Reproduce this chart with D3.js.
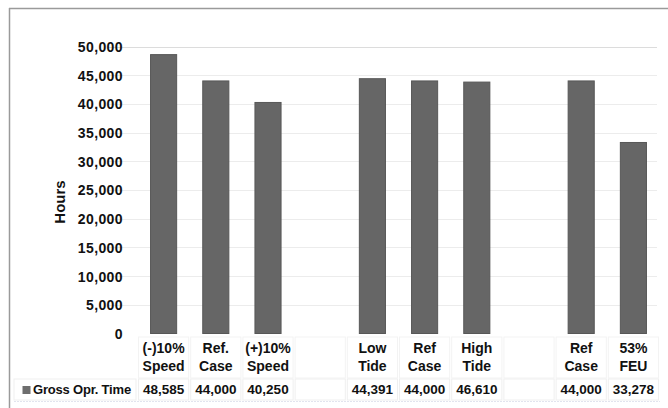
<!DOCTYPE html>
<html>
<head>
<meta charset="utf-8">
<script src="https://cdn.jsdelivr.net/npm/d3@7"></script>
<style>
  html, body { margin: 0; padding: 0; background: #fff; }
  svg { display: block; font-family: "Liberation Sans", Arial, sans-serif; font-weight: bold; }
</style>
</head>
<body>
<svg id="chart" width="668" height="408"></svg>
<script>
// ---- data ----
const categories = [
  ["(-)10%", "Speed"], ["Ref.", "Case"], ["(+)10%", "Speed"], ["", ""],
  ["Low", "Tide"], ["Ref", "Case"], ["High", "Tide"], ["", ""],
  ["Ref", "Case"], ["53%", "FEU"]
];
const barValues = [48585, 44000, 40250, null, 44391, 44000, 43800, null, 44000, 33278];
const tableLabels = ["48,585", "44,000", "40,250", "", "44,391", "44,000", "46,610", "", "44,000", "33,278"];
const yTicks = [0, 5000, 10000, 15000, 20000, 25000, 30000, 35000, 40000, 45000, 50000];
const seriesName = "Gross Opr. Time";
const yTitle = "Hours";

// ---- layout ----
const svg = d3.select("#chart");
const plot = { left: 137.5, right: 659.5, top: 46.5, bottom: 333.5 };

const x = d3.scaleBand().domain(d3.range(categories.length)).range([plot.left, plot.right]).paddingInner(0.5).paddingOuter(0.25);
const y = d3.scaleLinear().domain([0, 50000]).range([plot.bottom, plot.top]);

// outer frame
svg.append("line").attr("x1", 9).attr("x2", 668).attr("y1", 8.5).attr("y2", 8.5).attr("stroke", "#9a9a9a").attr("stroke-width", 1.5);
svg.append("line").attr("x1", 9.5).attr("x2", 9.5).attr("y1", 8).attr("y2", 408).attr("stroke", "#9a9a9a").attr("stroke-width", 1.5);

// gridlines
svg.append("g").selectAll("line").data(yTicks.filter(d => d > 0)).join("line")
  .attr("x1", 108).attr("x2", 657)
  .attr("y1", d => Math.round(y(d)) + 0.5).attr("y2", d => Math.round(y(d)) + 0.5)
  .attr("stroke", d => d === 50000 ? "#dcdcdc" : "#ececec").attr("stroke-width", 1);

// y axis labels via d3 axis
const yAxis = d3.axisLeft(y).tickValues(yTicks).tickFormat(d3.format(",")).tickSize(0).tickPadding(0);
const gy = svg.append("g").attr("transform", "translate(123,0)").call(yAxis);
gy.select(".domain").remove();
gy.selectAll("text").attr("font-size", 14).attr("font-weight", "bold").attr("fill", "#111")
  .attr("font-family", "Liberation Sans, Arial, sans-serif").attr("letter-spacing", 0.4).attr("dy", "0.35em");

// y title
svg.append("text").attr("transform", "translate(65,202) rotate(-90)")
  .attr("text-anchor", "middle").attr("font-size", 15).attr("fill", "#111").text(yTitle);

// bars
const barData = barValues.map((v, i) => ({ v, i })).filter(d => d.v != null);
svg.append("g").selectAll("rect").data(barData).join("rect")
  .attr("x", d => x(d.i)).attr("width", x.bandwidth())
  .attr("y", d => y(d.v)).attr("height", d => y(0) - y(d.v))
  .attr("fill", "#666666").attr("stroke", "#575757").attr("stroke-width", 1);

// table
const step = x.step();
const tbl = svg.append("g");
categories.forEach((c, i) => {
  const cx = x(i) + x.bandwidth() / 2;
  tbl.append("rect").attr("x", cx - step / 2 + 1).attr("y", 337).attr("width", step - 2).attr("height", 41)
    .attr("fill", "#fff").attr("stroke", "#f3f3f3");
  tbl.append("rect").attr("x", cx - step / 2 + 1).attr("y", 379).attr("width", step - 2).attr("height", 21)
    .attr("fill", "#fff").attr("stroke", "#efefef");
});
tbl.append("rect").attr("x", 14).attr("y", 379).attr("width", 122).attr("height", 21)
  .attr("fill", "#fff").attr("stroke", "#efefef");
tbl.append("line").attr("x1", 14).attr("x2", 660).attr("y1", 401.5).attr("y2", 401.5)
  .attr("stroke", "#e2e4ee").attr("stroke-dasharray", "2,1");

// category labels
const labG = svg.append("g").selectAll("text").data(categories.map((c, i) => ({ c, i }))).join("text")
  .attr("x", d => x(d.i) + x.bandwidth() / 2).attr("text-anchor", "middle")
  .attr("font-size", 14).attr("fill", "#111");
labG.append("tspan").attr("x", d => x(d.i) + x.bandwidth() / 2).attr("y", 353).text(d => d.c[0]);
labG.append("tspan").attr("x", d => x(d.i) + x.bandwidth() / 2).attr("y", 371).text(d => d.c[1]);

// value row
svg.append("g").selectAll("text").data(tableLabels.map((t, i) => ({ t, i }))).join("text")
  .attr("x", d => x(d.i) + x.bandwidth() / 2).attr("y", 394).attr("text-anchor", "middle")
  .attr("font-size", 13.5).attr("fill", "#111").text(d => d.t);

// legend
svg.append("rect").attr("x", 22.5).attr("y", 386).attr("width", 8).attr("height", 8).attr("fill", "#6e6e6e");
svg.append("text").attr("x", 33).attr("y", 394).attr("font-size", 13).attr("fill", "#111")
  .attr("letter-spacing", -0.2).text(seriesName);
</script>
</body>
</html>
